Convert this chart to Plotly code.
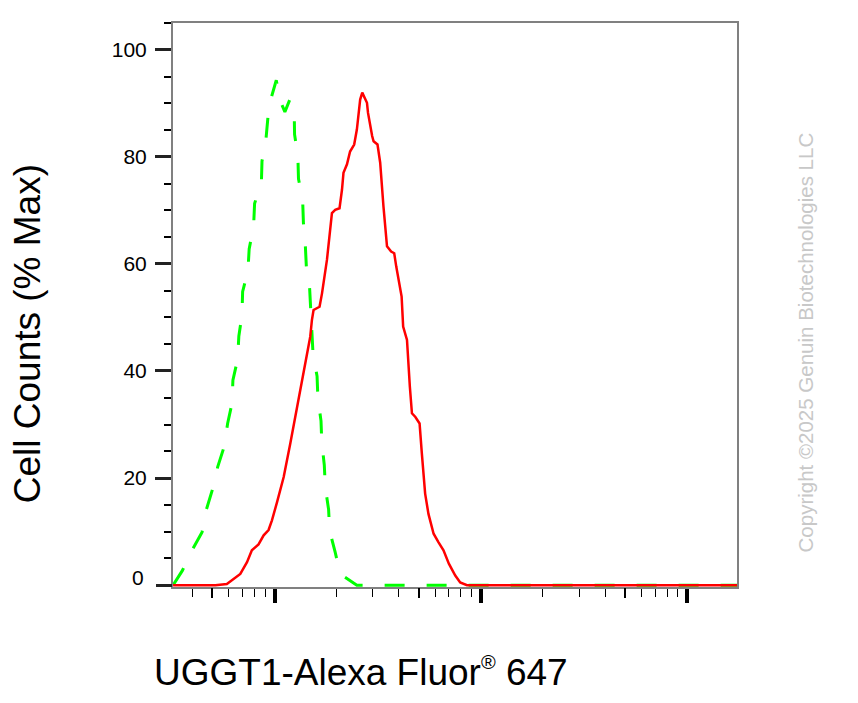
import plotly.graph_objects as go

# ---- data ----
# Isotype control (green dashed)
ctrl_x = [322, 357, 398, 445, 467, 502, 530, 570, 592, 622, 628, 662, 671, 695, 700,
          743, 753, 791, 800, 863, 869, 908, 929, 971, 1019, 1067, 1122, 1183, 1245,
          1250, 1297, 1306, 1368, 1380, 1409, 1426, 1479, 1496, 1517, 1535, 1607, 1622,
          1679, 1694, 1742, 1762, 1828, 1849, 1968, 2080, 2506, 180000]
ctrl_y = [0, 2.7, 6.5, 9.9, 14.1, 18.1, 22.1, 25.9, 30.2, 34.0, 38.3, 42.2, 46.5, 50.5, 54.8,
          58.8, 62.8, 67.0, 71.3, 75.1, 79.2, 83.2, 87.5, 91.5, 94.3, 90.4, 88.4, 90.6, 88.4,
          84.2, 80.1, 75.9, 71.9, 67.6, 63.6, 59.4, 55.4, 51.1, 47.8, 43.4, 39.0, 34.9,
          30.7, 26.7, 22.4, 18.3, 14.1, 10.2, 6.1, 2.1, 0, 0]

# UGGT1 stained sample (red solid)
samp_x = [322, 413, 516, 587, 610, 682, 735, 776, 836, 885, 935, 971, 1028, 1107, 1191,
          1285, 1358, 1435, 1489, 1517, 1545, 1652, 1698, 1795, 1897, 1968, 2065, 2123, 2158,
          2244, 2323, 2432, 2506, 2600, 2661, 2805, 2838, 2972, 3020, 3155, 3251, 3373,
          3508, 3673, 3802, 3890, 4130, 4201, 4385, 4529, 4634, 4815, 5047, 5176, 5370,
          5572, 5902, 6237, 6592, 6998, 7516, 7943, 8570, 9397, 10304, 180000]
samp_y = [0, 0, 0, 0.2, 0.7, 2.1, 4.3, 6.5, 7.6, 9.3, 10.3, 12.1, 15.5, 20.2, 26.4,
          33.3, 38.0, 43.3, 46.4, 49.5, 51.4, 52.0, 54.5, 60.8, 69.5, 70.1, 70.4, 73.9, 77.0,
          78.6, 81.0, 82.3, 85.1, 90.7, 92.0, 90.1, 88.2, 83.9, 82.9, 82.3, 78.9, 70.7,
          63.3, 62.3, 62.0, 59.5, 53.9, 48.3, 45.8, 37.0, 32.1, 31.4, 30.2, 24.6, 17.1,
          13.3, 9.6, 8.0, 6.5, 4.0, 1.8, 0.5, 0, 0, 0, 0]

y_labeled = [20, 40, 60, 80, 100]
y_zero = [0]
y_minor = [5, 10, 15, 25, 30, 35, 45, 50, 55, 65, 70, 75, 85, 90, 95, 105]
x_major = [1e3, 1e4, 1e5]
x_half = [5e2, 5e3, 5e4]
x_minor = [m * d for d in (1e2, 1e3, 1e4, 1e5) for m in (2, 3, 4, 6, 7, 8, 9)]

x_title = "UGGT1-Alexa Fluor<sup><span style='font-size:20px'>®</span></sup> 647"
y_title = "Cell Counts (% Max)"
watermark = "Copyright ©2025 Genuin Biotechnologies LLC"

# ---- figure ----
FONT = "Liberation Sans, Arial, sans-serif"
XR = [2.5075, 5.242]
YR = [-0.35, 105]

fig = go.Figure()
fig.add_trace(go.Scatter(x=ctrl_x, y=ctrl_y, mode="lines",
                         line=dict(color="#00ff00", width=3, dash="20px,22px"),
                         showlegend=False, hoverinfo="skip"))
fig.add_trace(go.Scatter(x=samp_x, y=samp_y, mode="lines",
                         line=dict(color="#ff0000", width=2.5),
                         showlegend=False, hoverinfo="skip"))
fig.add_trace(go.Scatter(x=[None], y=[None], xaxis="x2", yaxis="y2",
                         showlegend=False, hoverinfo="skip"))

fig.update_layout(
    width=858, height=703,
    margin=dict(l=165, r=129, t=15, b=124),
    paper_bgcolor="white", plot_bgcolor="white",
    font=dict(family=FONT, color="black"),
    xaxis=dict(type="log", range=XR, showgrid=False, zeroline=False,
               showline=True, linecolor="#808080", linewidth=2, mirror=True,
               tickmode="array", tickvals=x_major, ticks="outside", ticklen=14,
               tickwidth=3.5, tickcolor="black", showticklabels=False,
               minor=dict(tickmode="array", tickvals=x_minor, ticks="outside",
                          ticklen=8, tickwidth=1.4, tickcolor="black", showgrid=False)),
    xaxis2=dict(type="log", range=XR, overlaying="x", anchor="y", side="bottom",
                showgrid=False, zeroline=False, showline=False,
                tickmode="array", tickvals=x_half, ticks="outside", ticklen=10,
                tickwidth=1.6, tickcolor="black", showticklabels=False),
    yaxis=dict(range=YR, showgrid=False, zeroline=False,
               showline=True, linecolor="#808080", linewidth=2, mirror=True,
               tickmode="array", tickvals=y_labeled,
               ticks="outside", ticklen=16, tickwidth=3, tickcolor="#222222",
               ticklabelstandoff=4,
               tickfont=dict(size=21, family=FONT, color="black"),
               minor=dict(tickmode="array", tickvals=y_minor, ticks="outside",
                          ticklen=7, tickwidth=2, tickcolor="black", showgrid=False)),
    yaxis2=dict(range=YR, overlaying="y", anchor="x", side="left",
                showgrid=False, zeroline=False, showline=False,
                tickmode="array", tickvals=y_zero, ticks="outside", ticklen=16,
                tickwidth=3, tickcolor="#222222", showticklabels=False),
    annotations=[
        dict(text="0", xref="paper", yref="y", x=-0.047, y=1.5, xanchor="right",
             yanchor="middle", showarrow=False, font=dict(size=21, family=FONT, color="black")),
        dict(text=x_title, xref="paper", yref="paper", x=-0.037, y=-0.15,
             xanchor="left", yanchor="middle", showarrow=False,
             font=dict(size=37, family=FONT, color="black")),
        dict(text=y_title, xref="paper", yref="paper", x=-0.258, y=0.449,
             xanchor="center", yanchor="middle", textangle=-90, showarrow=False,
             font=dict(size=37, family=FONT, color="black")),
        dict(text=watermark, xref="paper", yref="paper", x=1.121, y=0.434,
             xanchor="center", yanchor="middle", textangle=-90, showarrow=False,
             font=dict(size=20.5, family=FONT, color="#c8c8c8")),
    ],
)

fig.write_html("out.html")
